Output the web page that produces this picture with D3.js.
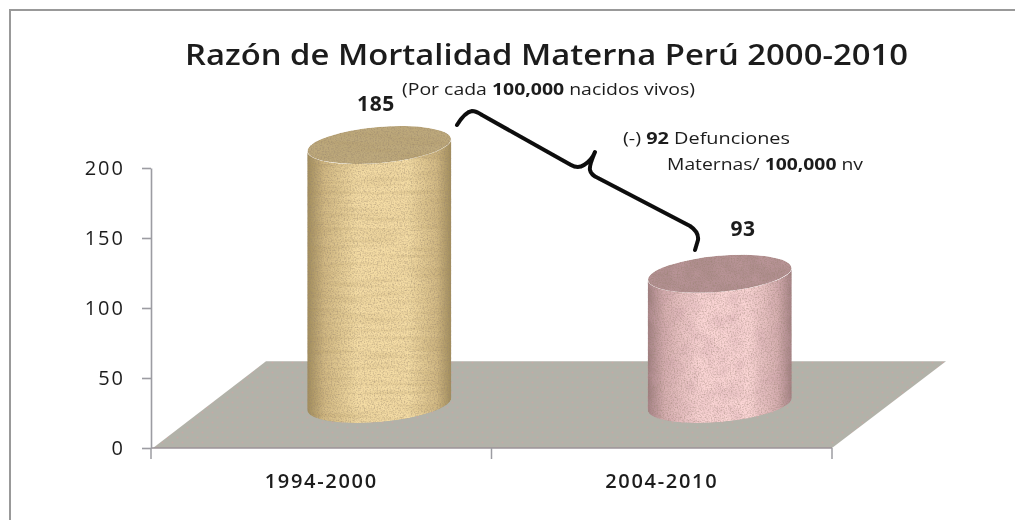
<!DOCTYPE html>
<html>
<head>
<meta charset="utf-8">
<script src="https://cdn.jsdelivr.net/npm/d3@7"></script>
<style>
  html, body { margin: 0; padding: 0; background: #fff; }
  svg { display: block; }
  text { font-family: "Open Sans", Lato, sans-serif; fill: #1c1c1c; }
</style>
</head>
<body>
<svg id="canvas" width="1015" height="520"></svg>
<script>
// values
const categories = ['1994-2000', '2004-2010'];
const values = [185, 93];
const yTicks = [0, 50, 100, 150, 200];
const barColors = [
  {edge: '#a08c5c', soft: '#d2b983', mid: '#f4dca4', top: '#bda97b', bands: '0.015 0.22', bandMatrix: '0 0 0 0 0.4  0 0 0 0 0.28  0 0 0 0 0.1  0 0 0 0.6 -0.24'},
  {edge: '#9f7d80', soft: '#d6aeb0', mid: '#fad4d4', top: '#b08e8f', bands: '0.07 0.07', bandMatrix: '0 0 0 0 0.6  0 0 0 0 0.35  0 0 0 0 0.4  0 0 0 0.8 -0.3'}
];
const titleText = 'Razón de Mortalidad Materna Perú 2000-2010';

const svg = d3.select('#canvas');

let x = d3.scaleBand().domain(categories).range([151, 832]);
let y = d3.scaleLinear().domain([0, 200]).range([448, 168]);

// the chart is a fake 3d one, so bars stand further back than the axis
let depthX = 58, depthY = -44, rx = 72, ry = 18, tilt = -5;
let tiltDy = rx * Math.sin(-tilt * Math.PI / 180);

let defs = svg.append('defs');

// grainy look of the picture fills, one filter per bar
barColors.forEach(function(c, i){
    let grain = defs.append('filter').attr('id', 'grain-' + i)
        .attr('x', 0).attr('y', 0).attr('width', 1).attr('height', 1);
    grain.append('feTurbulence').attr('type', 'fractalNoise')
        .attr('baseFrequency', c.bands).attr('numOctaves', 2).attr('seed', 4 + i).attr('result', 'bands');
    grain.append('feColorMatrix').attr('in', 'bands').attr('type', 'matrix')
        .attr('values', c.bandMatrix).attr('result', 'bandsA');
    grain.append('feTurbulence').attr('type', 'fractalNoise')
        .attr('baseFrequency', 0.7).attr('numOctaves', 2).attr('seed', 9).attr('result', 'noise');
    grain.append('feColorMatrix').attr('in', 'noise').attr('type', 'matrix')
        .attr('values', '0 0 0 0 0.3  0 0 0 0 0.22  0 0 0 0 0.15  0 0 0 1.3 -0.52').attr('result', 'noiseA');
    let gm = grain.append('feMerge').attr('result', 'tex');
    gm.append('feMergeNode').attr('in', 'SourceGraphic');
    gm.append('feMergeNode').attr('in', 'bandsA');
    gm.append('feMergeNode').attr('in', 'noiseA');
    grain.append('feComposite').attr('in', 'tex').attr('in2', 'SourceAlpha').attr('operator', 'in').attr('result', 'cut');
    grain.append('feGaussianBlur').attr('in', 'cut').attr('stdDeviation', 0.5);

    let g = defs.append('linearGradient').attr('id', 'body-' + i);
    [[0, c.edge], [0.12, c.soft], [0.35, c.mid], [0.7, c.mid], [0.9, c.soft], [1, c.edge]].forEach(function(s){
        g.append('stop').attr('offset', s[0]).attr('stop-color', s[1]);
    });
});

let soft = defs.append('filter').attr('id', 'soft');
soft.append('feGaussianBlur').attr('stdDeviation', 0.4);

// dotted floor fill
let dots = defs.append('pattern').attr('id', 'floor-dots').attr('patternUnits', 'userSpaceOnUse')
    .attr('width', 10).attr('height', 10);
dots.append('rect').attr('width', 10).attr('height', 10).attr('fill', '#b2b2a9');
dots.append('circle').attr('cx', 2.5).attr('cy', 2.5).attr('r', 1).attr('fill', '#c6a8a5');
dots.append('circle').attr('cx', 7.5).attr('cy', 7.5).attr('r', 1).attr('fill', '#c6a8a5');

// frame, it runs off the right and bottom edges
svg.append('rect').attr('x', 10).attr('y', 10).attr('width', 1100).attr('height', 600)
    .attr('fill', '#fff').attr('stroke', '#999').attr('stroke-width', 2);

// floor
let floor = [[x.range()[0] + 2, y(0)], [266, y(62)], [946, y(62)], [x.range()[1], y(0)]];
svg.append('path').attr('d', d3.line()(floor) + 'Z').attr('fill', 'url(#floor-dots)');
svg.append('line').attr('x1', x.range()[0]).attr('x2', x.range()[1]).attr('y1', y(0)).attr('y2', y(0))
    .attr('stroke', '#9b9398').attr('stroke-width', 1.5);

// axes
let yAxis = svg.append('g').attr('transform', 'translate(151,0)')
    .call(d3.axisLeft(y).tickValues(yTicks).tickSize(9).tickPadding(17).tickSizeOuter(0));
yAxis.selectAll('line, path').attr('stroke', '#9c9ca2').attr('stroke-width', 1.6);
yAxis.selectAll('text').attr('font-size', 20).attr('letter-spacing', 2);

let xAxis = svg.append('g').attr('transform', 'translate(0,' + y(0) + ')')
    .call(d3.axisBottom(x).tickSize(0).tickPadding(26));
xAxis.select('path').remove();
xAxis.selectAll('text').attr('font-size', 20).attr('font-weight', 600).attr('letter-spacing', 1.7);

let xEdges = [x(categories[0]), x(categories[1]), x.range()[1]];
svg.selectAll('.x-edge').data(xEdges).enter().append('line').attr('class', 'x-edge')
    .attr('x1', function(d){ return d; }).attr('x2', function(d){ return d; })
    .attr('y1', y(0)).attr('y2', y(0) + 11)
    .attr('stroke', '#9c9ca2').attr('stroke-width', 1.5);

// cylinders
let bars = svg.selectAll('.bar').data(values).enter().append('g').attr('class', 'bar')
    .attr('filter', function(d, i){ return 'url(#grain-' + i + ')'; });

bars.append('path')
    .attr('fill', function(d, i){ return 'url(#body-' + i + ')'; })
    .attr('d', function(d, i){
        let cx = x(categories[i]) + x.bandwidth() / 2 + depthX;
        let top = y(d) + depthY, base = y(0) + depthY;
        return 'M' + (cx - rx) + ',' + (top + tiltDy) +
            'L' + (cx - rx) + ',' + (base + tiltDy) +
            'A' + rx + ',' + ry + ' ' + tilt + ' 0 0 ' + (cx + rx) + ',' + (base - tiltDy) +
            'L' + (cx + rx) + ',' + (top - tiltDy) +
            'A' + rx + ',' + ry + ' ' + tilt + ' 0 1 ' + (cx - rx) + ',' + (top + tiltDy) + 'Z';
    });

bars.append('ellipse')
    .attr('fill', function(d, i){ return barColors[i].top; })
    .attr('rx', rx).attr('ry', ry)
    .attr('transform', function(d, i){
        let cx = x(categories[i]) + x.bandwidth() / 2 + depthX;
        return 'translate(' + cx + ',' + (y(d) + depthY) + ') rotate(' + tilt + ')';
    });

// value labels
svg.append('text').attr('x', 376).attr('y', 111).attr('text-anchor', 'middle')
    .attr('font-size', 21).attr('font-weight', 700).attr('letter-spacing', 0.6).text(values[0]);
svg.append('text').attr('x', 743).attr('y', 236).attr('text-anchor', 'middle')
    .attr('font-size', 21).attr('font-weight', 700).attr('letter-spacing', 0.6).text(values[1]);

// title and notes
svg.append('text').attr('x', 185).attr('y', 65)
    .attr('font-size', 29).attr('font-weight', 600).attr('textLength', 723)
    .attr('lengthAdjust', 'spacingAndGlyphs').text(titleText);

let sub = svg.append('text').attr('x', 402).attr('y', 95).attr('font-size', 16)
    .attr('textLength', 293).attr('lengthAdjust', 'spacingAndGlyphs');
sub.append('tspan').text('(Por cada ');
sub.append('tspan').attr('font-weight', 700).text('100,000');
sub.append('tspan').text(' nacidos vivos)');

let note1 = svg.append('text').attr('x', 623).attr('y', 144).attr('font-size', 16)
    .attr('textLength', 167).attr('lengthAdjust', 'spacingAndGlyphs');
note1.append('tspan').text('(-) ');
note1.append('tspan').attr('font-weight', 700).text('92');
note1.append('tspan').text(' Defunciones');

let note2 = svg.append('text').attr('x', 667).attr('y', 170).attr('font-size', 16)
    .attr('textLength', 196).attr('lengthAdjust', 'spacingAndGlyphs');
note2.append('tspan').text('Maternas/ ');
note2.append('tspan').attr('font-weight', 700).text('100,000');
note2.append('tspan').text(' nv');

// hand drawn brace between the two bars
let brace = 'M457,125 Q465,112 472,111 Q476,111 482,115 L571,165 Q578,169 584,165 Q592,160 595,152' +
    'Q589,166 590,170 Q591,175 598,178 L690,226 Q699,232 698,240 L695,250';
svg.append('path').attr('d', brace).attr('fill', 'none').attr('stroke', '#0c0c0c')
    .attr('stroke-width', 4).attr('stroke-linecap', 'round').attr('stroke-linejoin', 'round')
    .attr('filter', 'url(#soft)');

svg.selectAll('text').attr('filter', 'url(#soft)');
</script>
</body>
</html>
